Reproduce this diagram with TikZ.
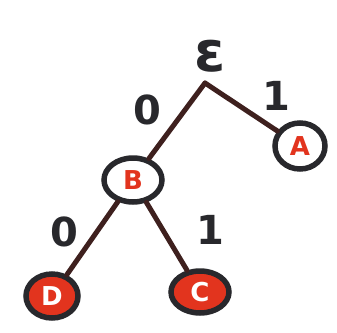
\documentclass[tikz,border=0pt]{standalone}
\usepackage{fontspec}
\setmainfont{DejaVu Sans}
\usetikzlibrary{shapes.geometric}
\definecolor{ink}{RGB}{40,40,44}
\definecolor{edgeink}{RGB}{62,32,30}
\definecolor{redink}{RGB}{226,52,30}
\begin{document}
\begin{tikzpicture}[x=1pt,y=-1pt,
  leaf/.style={ellipse,draw=ink,line width=5.5pt,inner sep=0pt,font=\fontsize{26}{26}\selectfont\bfseries},
  openleaf/.style={leaf,fill=white,text=redink},
  fullleaf/.style={leaf,fill=redink,text=white},
  branch/.style={draw=edgeink,line width=5pt,line cap=round},
  bitlabel/.style={font=\fontsize{40}{40}\selectfont\bfseries,text=ink}]
\useasboundingbox[fill=white] (0,0) rectangle (337,332);
\node[font=\fontsize{56}{56}\selectfont\bfseries,text=ink,inner sep=0pt] (E) at (210,56) {ε};
\coordinate (apex) at (205,83);
\node[openleaf,minimum width=50pt,minimum height=46pt] (A) at (300,146) {A};
\node[openleaf,minimum width=58pt,minimum height=44pt] (B) at (133,180) {B};
\node[fullleaf,minimum width=52pt,minimum height=44pt] (D) at (52,296) {D};
\node[fullleaf,minimum width=58pt,minimum height=42pt] (C) at (200,292) {C};
\draw[branch] (apex) -- (B);
\draw[branch] (apex) -- (A);
\draw[branch] (B) -- (D);
\draw[branch] (B) -- (C);
\node[bitlabel] (l1) at (147,110) {0};
\node[bitlabel] (l2) at (276,96) {1};
\node[bitlabel] (l3) at (64,232) {0};
\node[bitlabel] (l4) at (210,230) {1};
\end{tikzpicture}
\end{document}
